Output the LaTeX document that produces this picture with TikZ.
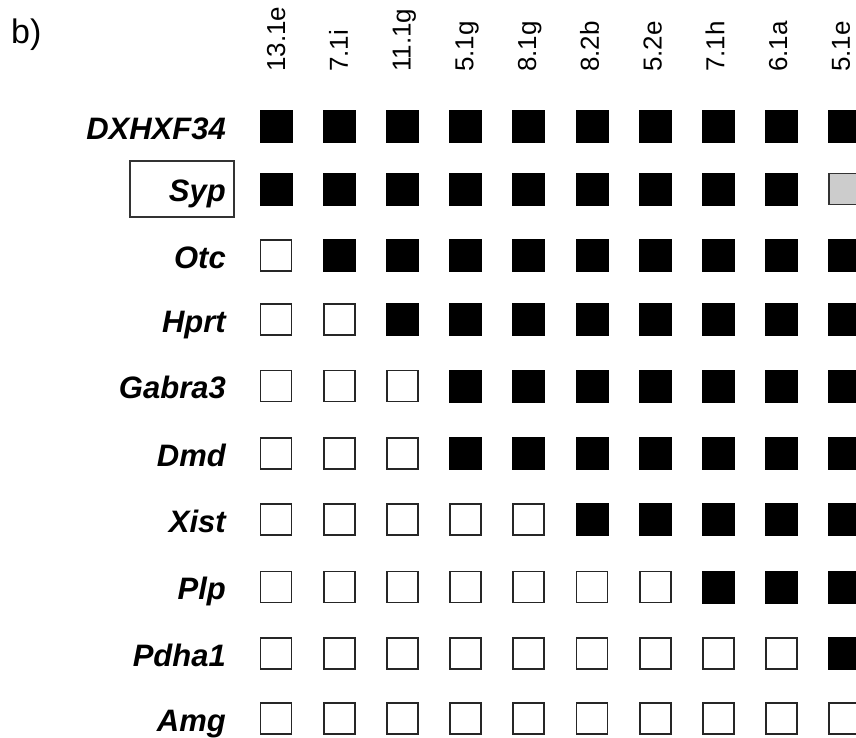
\documentclass[tikz,border=0pt]{standalone}
\usepackage{fontspec}
\setmainfont{Liberation Sans}
\tikzset{
  sqon/.style={draw=black, fill=black, minimum size=32pt, inner sep=0pt, line width=1pt},
  sqoff/.style={draw=black!85, fill=white, minimum size=31pt, inner sep=0pt, line width=1.8pt},
  sqgray/.style={draw=black!80, fill=black!20, minimum size=31pt, inner sep=0pt, line width=1.8pt},
  rowlab/.style={anchor=base east, inner sep=0pt, font=\fontsize{31}{31}\selectfont\bfseries\itshape},
  collab/.style={anchor=base west, rotate=90, inner sep=0pt, font=\fontsize{26}{26}\selectfont},
  labbox/.style={draw=black!80, line width=1.3pt, minimum width=104pt, minimum height=56pt, inner sep=0pt},
}
\begin{document}
\begin{tikzpicture}[x=1pt,y=-1pt]
\useasboundingbox (0,0) rectangle (856,737);
\clip (0,0) rectangle (856,737);
\fill[white] (0,0) rectangle (856,737);
\node[anchor=base west, inner sep=0pt, font=\fontsize{34}{34}\selectfont] (blab) at (11,43) {b)};
% column labels
\foreach \cl [count=\c] in {13.1e,7.1i,11.1g,5.1g,8.1g,8.2b,5.2e,7.1h,6.1a,5.1e}{
  \pgfmathsetmacro{\cx}{276+63.2*(\c-1)}
  \pgfmathsetmacro{\bx}{\cx+9-0.45*(\c-1)}
  \node[collab] (col\c) at (\bx,72) {\cl};
}
% Syp box
\node[labbox] (sypbox) at (182,189) {};
% rows
\foreach \r/\lab/\n/\cy in {1/DXHXF34/0/126.5, 2/Syp/0/189, 3/Otc/1/255.5, 4/Hprt/2/319.5, 5/Gabra3/3/386, 6/Dmd/3/453.5, 7/Xist/5/519.5, 8/Plp/7/587, 9/Pdha1/9/653.5, 10/Amg/10/718.5}{
  \node[rowlab] (lab\r) at (226,\cy+12.5) {\lab};
  \foreach \c in {1,...,10}{
    \pgfmathsetmacro{\cx}{276+63.2*(\c-1)}
    \ifnum\c>\n
      \ifnum\r=2 \ifnum\c=10
        \node[sqgray] (s\r-\c) at (\cx,\cy) {};
      \else
        \node[sqon] (s\r-\c) at (\cx,\cy) {};
      \fi
      \else
        \node[sqon] (s\r-\c) at (\cx,\cy) {};
      \fi
    \else
      \node[sqoff] (s\r-\c) at (\cx,\cy) {};
    \fi
  }
}
\end{tikzpicture}
\end{document}
